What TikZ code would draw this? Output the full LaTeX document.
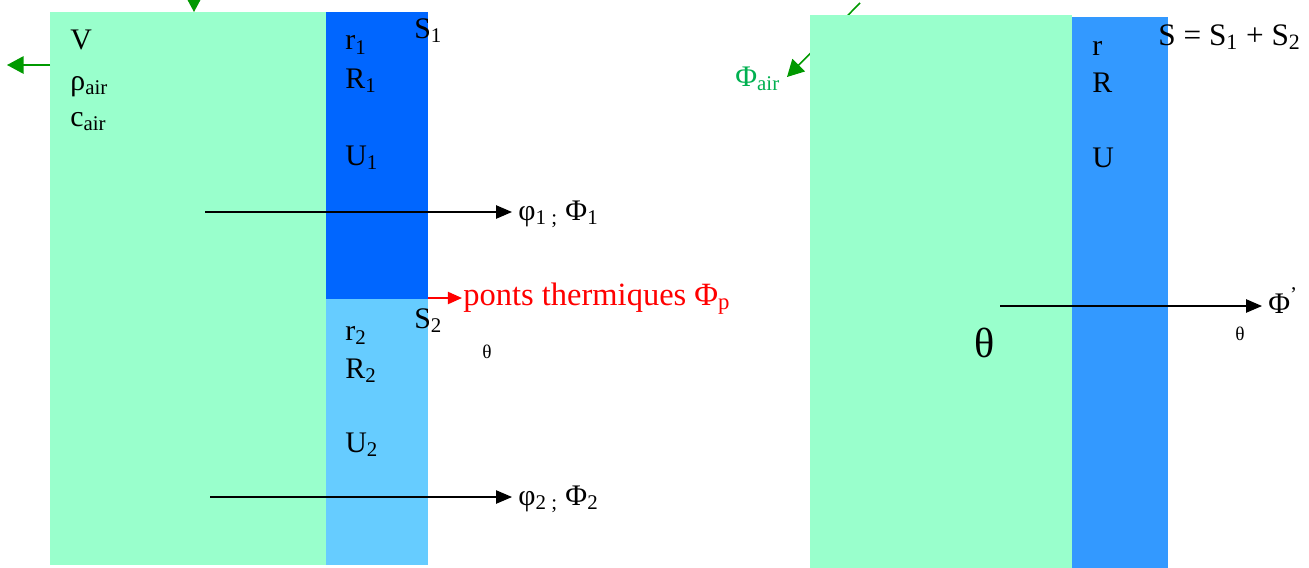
\documentclass[tikz,border=0pt]{standalone}
\usepackage{fontspec}
\setmainfont{Liberation Serif}
\usepackage{tikz}
\usetikzlibrary{arrows.meta,positioning}
\usepackage{xcolor}
\definecolor{airgreen}{RGB}{153,255,204}
\definecolor{wallone}{RGB}{0,102,255}
\definecolor{walltwo}{RGB}{102,204,255}
\definecolor{wallmean}{RGB}{51,153,255}
\definecolor{flowgreen}{RGB}{0,153,0}
\definecolor{labelgreen}{RGB}{0,176,80}

\begin{document}
\begin{tikzpicture}[
    x=0.02cm, y=-0.02cm,
    every node/.style={font=\fontsize{17}{20}\selectfont, inner sep=0pt, anchor=base west},
    small/.style={font=\fontsize{11}{13}\selectfont},
    big/.style={font=\fontsize{24}{28}\selectfont},
    flux/.style={-{Triangle[length=9pt, width=7.5pt]}, line width=0.75pt},
    airflow/.style={-{Triangle[length=9.5pt, width=10pt]}, line width=0.9pt, flowgreen},
    bridge/.style={-{Triangle[length=8pt, width=7pt]}, line width=0.75pt, red}
]
\useasboundingbox (0,0) rectangle (1309,568);

% Outgoing air flow (behind the right room)
\coordinate (airin) at (860,3);
\coordinate (airout) at (787,77);
\draw[airflow] (airin) -- (airout);

% Left room and the two walls
\fill[airgreen] (50,12) rectangle (326,565);
\fill[wallone] (326,12) rectangle (428,299);
\fill[walltwo] (326,299) rectangle (428,565);

% Right room and the equivalent wall
\fill[airgreen] (810,15) rectangle (1072,568);
\fill[wallmean] (1072,17) rectangle (1168,568);

% Air renewal arrows (left)
\coordinate (topin) at (194,-12);
\coordinate (topend) at (194,12);
\draw[airflow] (topin) -- (topend);
\coordinate (leftin) at (50,65);
\coordinate (leftend) at (7,65);
\draw[airflow] (leftin) -- (leftend);

% Room properties
\node (vol) at (70,50) {V};
\node (rho) at (70,90) {ρ\textsubscript{air}};
\node (cap) at (70,126) {c\textsubscript{air}};

% Wall 1
\node (rA) at (345,50) {r\textsubscript{1}};
\node (RA) at (345,88) {R\textsubscript{1}};
\node (UA) at (345,165) {U\textsubscript{1}};
\node (SA) at (414,38) {S\textsubscript{1}};

% Wall 2
\node (rB) at (345,340) {r\textsubscript{2}};
\node (RB) at (345,378) {R\textsubscript{2}};
\node (UB) at (345,452) {U\textsubscript{2}};
\node (SB) at (414,328) {S\textsubscript{2}};

% Heat fluxes through the walls
\node (phiA) at (518,220) {φ\textsubscript{1 ;} Φ\textsubscript{1}};
\coordinate (startA) at (205,212);
\draw[flux] (startA) -- ([xshift=-3.4pt]startA -| phiA.west);

\node (phiB) at (518,505) {φ\textsubscript{2 ;} Φ\textsubscript{2}};
\coordinate (startB) at (210,497);
\draw[flux] (startB) -- ([xshift=-3.4pt]startB -| phiB.west);

% Thermal bridges
\node[red, font=\fontsize{18.5}{22}\selectfont] (ponts) at (463,305) {ponts thermiques Φ\textsubscript{p}};
\coordinate (junction) at (428,298);
\draw[bridge] (junction) -- ([xshift=-0.6pt]junction -| ponts.west);
\node[small] (thetaA) at (482,358) {θ};

% Right: equivalent wall
\node[labelgreen] (phiair) at (735,86) {Φ\textsubscript{air}};
\node (rC) at (1092,55) {r};
\node (RC) at (1092,92) {R};
\node (UC) at (1092,167) {U};
\node[font=\fontsize{17.8}{21}\selectfont] (SC) at (1158,45) {S = S\textsubscript{1} + S\textsubscript{2}};

\node[big] (theta) at (974,357) {θ};
\node (phiC) at (1268,313) {Φ\textsuperscript{’}};
\coordinate (startC) at (1000,306);
\draw[flux] (startC) -- ([xshift=-3.4pt]startC -| phiC.west);
\node[small] (thetaC) at (1235,340) {θ};

\end{tikzpicture}
\end{document}
